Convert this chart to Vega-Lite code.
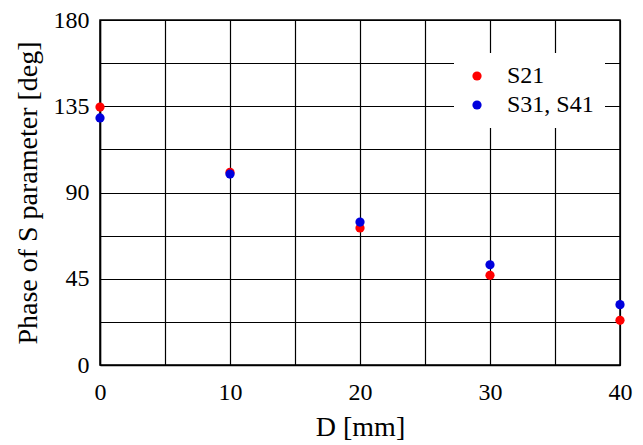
{
  "$schema": "https://vega.github.io/schema/vega-lite/v6.json",
  "autosize": {"type": "none"},
  "width": 520,
  "height": 345,
  "padding": {"left": 100, "top": 20, "right": 23, "bottom": 80},
  "background": "white",
  "config": {
    "font": "Liberation Serif",
    "view": {"stroke": "black", "strokeWidth": 1.5}
  },
  "data": {
    "values": [
      {"D": 0, "phase": 134.6, "series": "S21"},
      {"D": 10, "phase": 100.5, "series": "S21"},
      {"D": 20, "phase": 71.5, "series": "S21"},
      {"D": 30, "phase": 46.8, "series": "S21"},
      {"D": 40, "phase": 23.3, "series": "S21"},
      {"D": 0, "phase": 128.9, "series": "S31, S41"},
      {"D": 10, "phase": 99.6, "series": "S31, S41"},
      {"D": 20, "phase": 74.6, "series": "S31, S41"},
      {"D": 30, "phase": 52.3, "series": "S31, S41"},
      {"D": 40, "phase": 31.5, "series": "S31, S41"}
    ]
  },
  "mark": {"type": "point", "filled": true, "opacity": 1, "size": 85, "shape": "circle"},
  "encoding": {
    "x": {
      "field": "D", "type": "quantitative",
      "scale": {"domain": [0, 40], "nice": false},
      "axis": {
        "title": "D [mm]", "values": [0, 5, 10, 15, 20, 25, 30, 35, 40],
        "labelExpr": "datum.value % 10 == 0 ? datum.label : ''",
        "grid": true, "gridColor": "black", "gridOpacity": 1, "gridWidth": 1.2,
        "domainColor": "black", "domainWidth": 1.5, "ticks": false,
        "labelFont": "Liberation Serif", "titleFont": "Liberation Serif",
        "labelFontSize": 24, "labelColor": "black", "labelPadding": 15, "labelFlush": false,
        "titleFontSize": 28, "titleFontWeight": "normal", "titleColor": "black", "titlePadding": 9
      }
    },
    "y": {
      "field": "phase", "type": "quantitative",
      "scale": {"domain": [0, 180], "nice": false},
      "axis": {
        "title": "Phase of S parameter [deg]", "values": [0, 22.5, 45, 67.5, 90, 112.5, 135, 157.5, 180],
        "labelExpr": "datum.value % 45 == 0 ? datum.label : ''",
        "grid": true, "gridColor": "black", "gridOpacity": 1, "gridWidth": 1.2,
        "domainColor": "black", "domainWidth": 1.5, "ticks": false,
        "labelFont": "Liberation Serif", "titleFont": "Liberation Serif",
        "labelFontSize": 24, "labelColor": "black", "labelPadding": 11, "labelFlush": false,
        "titleFontSize": 28, "titleFontWeight": "normal", "titleColor": "black", "titlePadding": 11
      }
    },
    "color": {
      "field": "series", "type": "nominal",
      "scale": {"domain": ["S21", "S31, S41"], "range": ["#ff0000", "#0000dd"]},
      "legend": {
        "title": null, "orient": "none", "legendX": 354, "legendY": 33,
        "fillColor": "white", "padding": 11, "labelFontSize": 24, "labelColor": "black",
        "labelFont": "Liberation Serif",
        "symbolSize": 85, "symbolType": "circle", "labelOffset": 18, "rowPadding": 5,
        "symbolStrokeWidth": 0
      }
    }
  }
}
